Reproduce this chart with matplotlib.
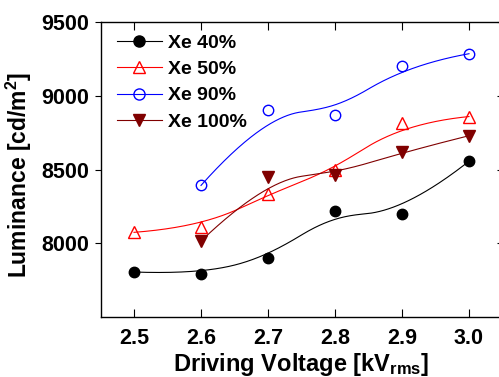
import numpy as np
import matplotlib
matplotlib.use('Agg')
import matplotlib.pyplot as plt

plt.rcParams.update({'font.family': 'Liberation Sans', 'font.weight': 'bold'})
plt.rcParams.update({'mathtext.default': 'regular'})

voltage = [2.5, 2.6, 2.7, 2.8, 2.9, 3.0]
xe40 = [7805, 7789, 7899, 8217, 8199, 8556]
xe50 = [8074, 8108, 8332, 8500, 8814, 8859]
voltage90 = [2.6, 2.7, 2.8, 2.9, 3.0]
xe90 = [8392, 8902, 8870, 9203, 9285]
xe100 = [8015, 8448, 8464, 8616, 8729]


def bspline(x, y, k, n=300):
    # clamped B-spline using the data points as control points
    P = np.column_stack([x, y]).astype(float)
    m = len(P)
    k = min(k, m - 1)
    knots = np.concatenate([np.zeros(k), np.linspace(0, 1, m - k + 1), np.ones(k)])
    out = []
    for t in np.linspace(0, 1, n):
        if t >= 1:
            out.append(P[-1])
            continue
        s = np.searchsorted(knots, t, side='right') - 1
        d = [P[j + s - k].copy() for j in range(k + 1)]
        for r in range(1, k + 1):
            for j in range(k, r - 1, -1):
                i = j + s - k
                a = (t - knots[i]) / (knots[i + 1 + k - r] - knots[i])
                d[j] = (1 - a) * d[j - 1] + a * d[j]
        out.append(d[k])
    return np.array(out)


def smooth(x, y):
    # somewhere between a quadratic and a cubic b-spline, like the origin curve
    c = 0.5 * (bspline(x, y, 2) + bspline(x, y, 3))
    return c[:, 0], c[:, 1]


series = [
    (voltage, xe40, 'Xe 40%', 'black', 'o', 'black'),
    (voltage, xe50, 'Xe 50%', 'red', '^', 'none'),
    (voltage90, xe90, 'Xe 90%', 'blue', 'o', 'none'),
    (voltage90, xe100, 'Xe 100%', '#800000', 'v', '#800000'),
]

fig = plt.figure(figsize=(4.99, 3.77), dpi=100)
ax = fig.add_axes([100.5 / 499, 1 - 317 / 377, 402 / 499, 295 / 377])

handles = []
for x, y, lab, col, mk, fc in series:
    ms = 8.5 if mk != 'o' else 7.5
    sx, sy = smooth(x, y)
    ax.plot(sx, sy, color=col, lw=0.8)
    ax.plot(x, y, ls='none', marker=mk, ms=ms, mfc=fc, mec=col, mew=1.0)
    h, = ax.plot([], [], color=col, lw=0.8, marker=mk, ms=ms + 0.5,
                 mfc=fc, mec=col, mew=1.0)
    h.set_label(lab)
    handles.append(h)

ax.set_xlim(2.45, 3.05)
ax.set_ylim(7500, 9500)
ax.set_xticks(voltage)
ax.set_xticklabels(['2.5', '2.6', '2.7', '2.8', '2.9', '3.0'])
ax.set_yticks([8000, 8500, 9000, 9500])

ax.tick_params(axis='x', which='both', direction='in', top=True, length=5.5,
               width=0.8, labelsize=15.5, pad=8)
ax.tick_params(axis='y', which='both', direction='out', length=4,
               width=0.8, labelsize=15.5, pad=4)
ax.tick_params(axis='y', which='both', right=True)
for t in ax.yaxis.get_major_ticks():
    t.tick2line.set_marker(matplotlib.lines.TICKLEFT)
    t.tick2line.set_markersize(4)
for sp in ax.spines.values():
    sp.set_linewidth(1.0)

ax.set_xlabel('Driving Voltage [kV$_{rms}$]', fontsize=17, fontweight='bold', labelpad=1)
ax.set_ylabel('Luminance [cd/m$^2$]', fontsize=16.5, fontweight='bold')
ax.yaxis.set_label_coords(-0.166, 0.483)

ax.legend(handles=handles, loc='upper left', frameon=False, fontsize=14,
          handlelength=2.3, handletextpad=0.3, labelspacing=0.45,
          borderaxespad=0, borderpad=0,
          bbox_to_anchor=(16.5 / 402, 1 - 12 / 295))

fig.savefig('out.png', dpi=100)
